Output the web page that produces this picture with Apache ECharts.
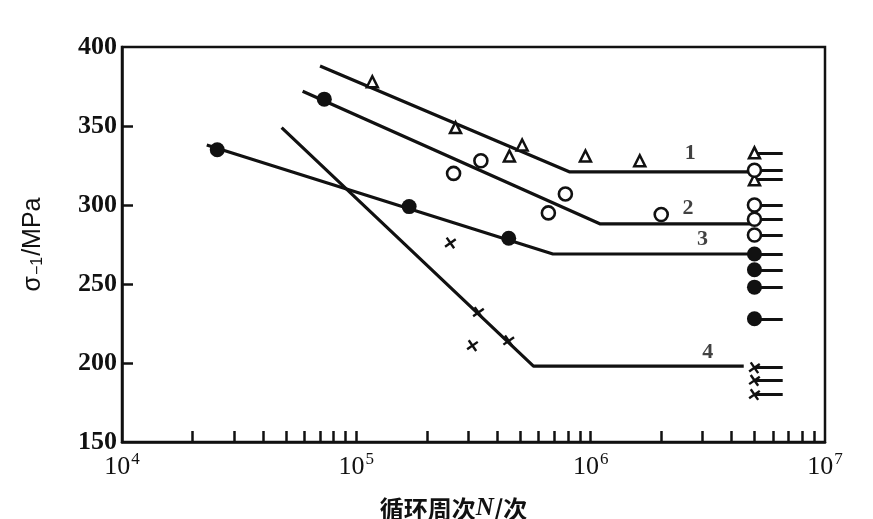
<!DOCTYPE html>
<html>
<head>
<meta charset="utf-8">
<script src="https://cdn.jsdelivr.net/npm/echarts@6/dist/echarts.min.js"></script>
<style>
html,body{margin:0;padding:0;background:#fff;}
#chart{width:873px;height:519px;}
</style>
</head>
<body>
<div id="chart"></div>
<script>
// ---- data (N in cycles, sigma in MPa) ----
const curve1Line = [[7.0e4, 388], [8.1e5, 321], [5.0e6, 321]];
const curve2Line = [[5.9e4, 372], [1.1e6, 288], [5.0e6, 288]];
const curve3Line = [[2.3e4, 338], [6.9e5, 269], [5.0e6, 269]];
const curve4Line = [[4.8e4, 349], [5.7e5, 198], [4.5e6, 198]];

const trianglePts = [[1.17e5, 378], [2.65e5, 349], [4.5e5, 331], [5.1e5, 338], [9.5e5, 331], [1.62e6, 328]];
const openCirclePts = [[2.6e5, 320], [3.4e5, 328], [6.6e5, 295], [7.8e5, 307], [2.0e6, 294]];
const filledCirclePts = [[2.55e4, 335], [7.3e4, 367], [1.68e5, 299], [4.47e5, 279]];
const crossPts = [[2.52e5, 276], [3.32e5, 232], [3.13e5, 211], [4.47e5, 214]];

// run-outs (not failed) at N = 5e6, arrow to 6.6e6
const runoutN = 5.0e6;
const runoutEnd = 6.6e6;
const runoutTri = [333, 316];
const runoutOpen = [322, 300, 291, 281];
const runoutFilled = [269, 259, 248, 228];
const runoutCross = [197, 189, 180];

const curveLabels = [[2.66e6, 333, '1'], [2.6e6, 298, '2'], [3.0e6, 278, '3'], [3.16e6, 207, '4']];

const xTickExponents = [4, 5, 6, 7];
const minorMultipliers = [2, 3, 4, 5, 6, 7, 8, 9];
const yMin = 150, yMax = 400, yStep = 50;

// ---- build ----
const INK = '#111';
const xMin = Math.pow(10, xTickExponents[0]);
const xMax = Math.pow(10, xTickExponents[xTickExponents.length - 1]);
const xTicks = [];
for (let e = xTickExponents[0]; e < xTickExponents[xTickExponents.length - 1]; e++) {
  if (e > xTickExponents[0]) xTicks.push(Math.pow(10, e));
  for (const m of minorMultipliers) xTicks.push(m * Math.pow(10, e));
}
const yTicks = [];
for (let v = yMin + yStep; v < yMax; v += yStep) yTicks.push(v);

const allRunouts = [].concat(runoutTri, runoutOpen, runoutFilled, runoutCross);
const runoutSegs = allRunouts.map(s => ({coords: [[runoutN, s], [runoutEnd, s]]}));

const lineStyle = {color: INK, width: 3.2};
function curve(data) {
  return {type: 'line', data: data, symbol: 'none', lineStyle: lineStyle, z: 2, animation: false};
}
const crossPath = 'path://M0,5L10,5M5,0L5,10';

const chart = echarts.init(document.getElementById('chart'), null, {renderer: 'canvas'});
const baseSeries = [
  curve(curve1Line), curve(curve2Line), curve(curve3Line), curve(curve4Line),
  {
    type: 'lines', coordinateSystem: 'cartesian2d', data: runoutSegs, z: 2,
    lineStyle: {color: INK, width: 3, opacity: 1}, animation: false
  },
  {
    type: 'scatter', data: trianglePts.concat(runoutTri.map(s => [runoutN, s])), symbol: 'triangle', symbolSize: 11, z: 5,
    itemStyle: {color: '#fff', borderColor: INK, borderWidth: 2.5, opacity: 1}
  },
  {
    type: 'scatter', data: openCirclePts.concat(runoutOpen.map(s => [runoutN, s])), symbol: 'circle', symbolSize: 13, z: 5,
    itemStyle: {color: '#fff', borderColor: INK, borderWidth: 2.6, opacity: 1}
  },
  {
    type: 'scatter', data: filledCirclePts.concat(runoutFilled.map(s => [runoutN, s])), symbol: 'circle', symbolSize: 15, z: 5,
    itemStyle: {color: INK, opacity: 1}
  },
  {
    type: 'scatter', data: crossPts.concat(runoutCross.map(s => [runoutN, s])), symbol: crossPath, symbolSize: 13, symbolRotate: 35, z: 5,
    itemStyle: {color: 'none', borderColor: INK, borderWidth: 2.4, opacity: 1}
  },
  {
    type: 'scatter', data: curveLabels, symbolSize: 0, z: 6,
    label: {show: true, formatter: p => p.data[2], position: 'inside', fontFamily: 'Liberation Serif', fontWeight: 'bold', fontSize: 22, color: INK}
  }
];

chart.setOption({
  backgroundColor: '#fff',
  animation: false,
  grid: {left: 122, right: 48, top: 47, bottom: 77, show: true, borderColor: INK, borderWidth: 2.5,
         backgroundColor: 'transparent', containLabel: false, outerBoundsMode: 'none'},
  xAxis: {
    type: 'log', logBase: 10, min: xMin, max: xMax,
    axisLine: {lineStyle: {color: INK, width: 2.5}},
    axisTick: {show: false},
    splitLine: {show: false},
    axisLabel: {
      margin: 9,
      formatter: v => '{b|10}{s|' + Math.round(Math.log10(v)) + '}',
      rich: {
        b: {fontFamily: 'Liberation Serif', fontSize: 26, color: INK, verticalAlign: 'bottom'},
        s: {fontFamily: 'Liberation Serif', fontSize: 17, color: INK, verticalAlign: 'top', padding: [0, 0, 12, 1]}
      }
    },
    name: '循环周次{i|N}/次',
    nameLocation: 'middle', nameGap: 54,
    nameTextStyle: {
      fontFamily: 'Noto Sans CJK SC', fontSize: 24, fontWeight: 'bold', color: INK, padding: [0, 40, 0, 0],
      rich: {i: {fontFamily: 'Liberation Serif', fontStyle: 'italic', fontWeight: 'bold', fontSize: 25, color: INK}}
    }
  },
  yAxis: {
    type: 'value', min: yMin, max: yMax, interval: yStep,
    axisLine: {show: true, lineStyle: {color: INK, width: 2.5}},
    axisTick: {show: false},
    splitLine: {show: false},
    axisLabel: {margin: 5, fontFamily: 'Liberation Serif', fontWeight: 'bold', fontSize: 26, color: INK},
    name: '{g|σ}{u|−1}{g|/MPa}',
    nameLocation: 'middle', nameGap: 76, nameRotate: 90,
    nameTextStyle: {
      rich: {
        g: {fontFamily: 'Liberation Sans', fontSize: 25, color: INK},
        u: {fontFamily: 'Liberation Sans', fontSize: 16, color: INK, verticalAlign: 'bottom', padding: [10, 1, 0, 1]}
      }
    }
  },
  series: baseSeries
});

// inward axis ticks drawn as short segments through the chart's own scales
const yBase = chart.convertToPixel({yAxisIndex: 0}, yMin);
const xBasePx = chart.convertToPixel({xAxisIndex: 0}, xMin);
const xTickEnd = chart.convertFromPixel({xAxisIndex: 0}, xBasePx + 11);
const yTickEnd = chart.convertFromPixel({yAxisIndex: 0}, yBase - 11);
const tickSegs = [];
xTicks.forEach(v => tickSegs.push({coords: [[v, yMin], [v, yTickEnd]]}));
yTicks.forEach(v => tickSegs.push({coords: [[xMin, v], [xTickEnd, v]]}));

chart.setOption({
  series: baseSeries.concat([{
    type: 'lines', coordinateSystem: 'cartesian2d', data: tickSegs, z: 10, silent: true,
    lineStyle: {color: INK, width: 2.5, opacity: 1}, animation: false
  }])
});
</script>
</body>
</html>
